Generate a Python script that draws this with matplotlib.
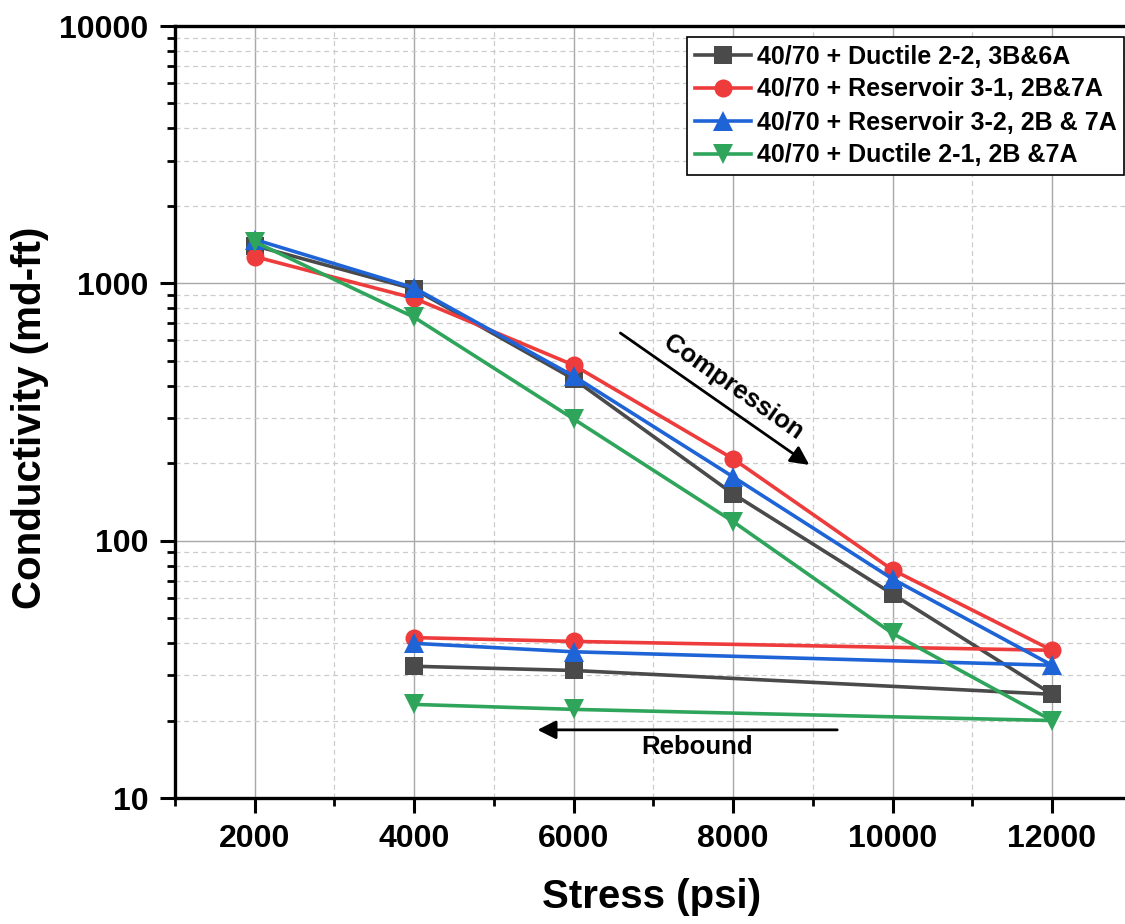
"""
Conductivity vs stress for 40/70 proppant packs (compression then rebound).
"""

import matplotlib
matplotlib.use('Agg')
import matplotlib.pyplot as plt
from matplotlib.ticker import FixedLocator, NullFormatter, LogLocator

plt.rcParams['font.family'] = ['Liberation Sans', 'DejaVu Sans']
plt.rcParams['font.weight'] = 'bold'

# loading path: compression 2000 -> 12000, then rebound back to 6000 and 4000
stress = [2000, 4000, 6000, 8000, 10000, 12000, 6000, 4000]

ductile_22 = [1400, 950, 425, 152, 62, 25.3, 31.3, 32.5]
reservoir_31 = [1270, 875, 481, 208, 77, 37.5, 40.6, 42]
reservoir_32 = [1480, 960, 436, 177, 71, 32.8, 37, 39.9]
ductile_21 = [1450, 738, 297, 118.6, 43.6, 20, 22.1, 23.1]

labels = ['40/70 + Ductile 2-2, 3B&6A',
          '40/70 + Reservoir 3-1, 2B&7A',
          '40/70 + Reservoir 3-2, 2B & 7A',
          '40/70 + Ductile 2-1, 2B &7A']

x_major = [2000, 4000, 6000, 8000, 10000, 12000]
x_minor = [1000, 3000, 5000, 7000, 9000, 11000]
y_major = [10, 100, 1000, 10000]
y_labels = ['10', '100', '1000', '10000']

fig = plt.figure(figsize=(11.25, 9.24), dpi=100)
ax = fig.add_axes([175/1125, 126/924, 950/1125, 772/924])

series = [ductile_22, reservoir_31, reservoir_32, ductile_21]
colors = ['#4a4a4a', '#ee3b3b', '#1f64d6', '#2fa55c']
markers = ['s', 'o', '^', 'v']
msizes = [13, 13, 14.5, 14.5]

for vals, lab, c, m, ms in zip(series, labels, colors, markers, msizes):
    ax.plot(stress, vals, color=c, marker=m, markersize=ms, lw=2.6,
            markeredgewidth=0, label=lab)

ax.set_yscale('log')
ax.set_xlim(1000, 12915)
ax.set_ylim(10, 10000)

ax.xaxis.set_major_locator(FixedLocator(x_major))
ax.xaxis.set_minor_locator(FixedLocator(x_minor))
ax.set_xticklabels([str(v) for v in x_major])
ax.set_yticks(y_major)
ax.set_yticklabels(y_labels)
ax.yaxis.set_minor_locator(LogLocator(base=10, subs=range(2, 10)))
ax.yaxis.set_minor_formatter(NullFormatter())

ax.grid(True, which='major', color='#a8a8a8', lw=1.0, ls='-')
ax.grid(True, which='minor', color='#cccccc', lw=0.9, ls=(0, (4, 3)))
ax.set_axisbelow(True)

for side in ['left', 'bottom', 'top']:
    ax.spines[side].set_linewidth(2.4)
ax.spines['right'].set_visible(False)

ax.tick_params(which='major', length=11, width=2.2, labelsize=23, pad=8,
               direction='out', top=False, right=False)
ax.tick_params(which='minor', length=6, width=2.0, direction='out',
               top=False, right=False)

ax.set_xlabel('Stress (psi)', fontsize=29, fontweight='bold', va='center')
ax.set_ylabel('Conductivity (md-ft)', fontsize=29, fontweight='bold',
              va='center')
ax.xaxis.set_label_coords(0.502, -0.128)
ax.yaxis.set_label_coords(-0.153, 0.492)

leg = ax.legend(loc='upper left', bbox_to_anchor=(687/1125, 1 - 37/924),
                bbox_transform=fig.transFigure, fontsize=18, frameon=True,
                fancybox=False, handlelength=2.25, handletextpad=0.25,
                labelspacing=0.36, borderpad=0.3, borderaxespad=0)
leg.get_frame().set_edgecolor('black')
leg.get_frame().set_linewidth(1.2)
leg.get_frame().set_alpha(1)

# compression / rebound arrows
ax.annotate('', xy=(8955, 197), xytext=(6586, 641),
            arrowprops=dict(arrowstyle='-|>', color='black', lw=2,
                            mutation_scale=28, shrinkA=0, shrinkB=0))
ax.text(8003, 395, 'Compression', rotation=-35, fontsize=18.5,
        fontweight='bold', ha='center', va='center')
ax.annotate('', xy=(5546, 18.4), xytext=(9306, 18.4),
            arrowprops=dict(arrowstyle='-|>', color='black', lw=2,
                            mutation_scale=28, shrinkA=0, shrinkB=0))
ax.text(7551, 15.8, 'Rebound', fontsize=18.5, fontweight='bold',
        ha='center', va='center')

fig.savefig('out.png', dpi=100)
